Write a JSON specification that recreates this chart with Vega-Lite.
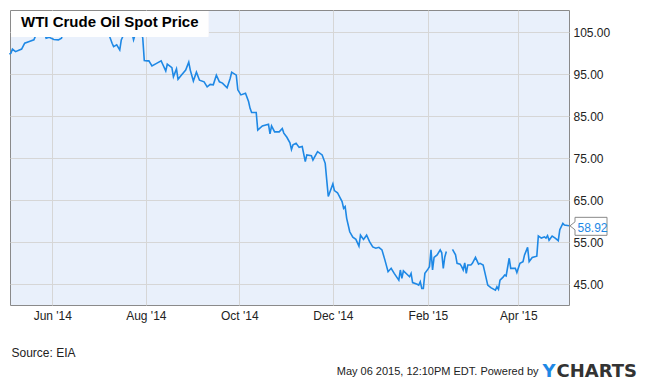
{
  "$schema": "https://vega.github.io/schema/vega-lite/v6.json",
  "width": 559,
  "height": 295,
  "autosize": {"type": "none"},
  "padding": {"left": 10, "top": 10, "right": 81, "bottom": 79},
  "background": "white",
  "config": {
    "view": {"fill": "#e9f0fb", "stroke": "#8a8a8a", "strokeWidth": 1},
    "font": "Liberation Sans"
  },
  "title": {
    "text": "WTI Crude Oil Spot Price",
    "anchor": "start",
    "frame": "group",
    "offset": -32,
    "dx": 11,
    "baseline": "alphabetic",
    "font": "Liberation Sans",
    "fontSize": 15,
    "fontWeight": "bold",
    "color": "#000000"
  },
  "data": {
    "format": {"parse": {"date": "date"}},
    "values": [
      {"date": "2014-05-04", "price": 99.8},
      {"date": "2014-05-05", "price": 100.0},
      {"date": "2014-05-06", "price": 101.0},
      {"date": "2014-05-08", "price": 100.4},
      {"date": "2014-05-12", "price": 101.0},
      {"date": "2014-05-14", "price": 102.4},
      {"date": "2014-05-17", "price": 102.8},
      {"date": "2014-05-20", "price": 103.2},
      {"date": "2014-05-21", "price": 104.1},
      {"date": "2014-05-22", "price": 104.8},
      {"date": "2014-05-24", "price": 105.4},
      {"date": "2014-05-26", "price": 105.7},
      {"date": "2014-05-28", "price": 103.6},
      {"date": "2014-05-30", "price": 103.8},
      {"date": "2014-06-02", "price": 103.3},
      {"date": "2014-06-05", "price": 103.2},
      {"date": "2014-06-07", "price": 103.6},
      {"date": "2014-06-08", "price": 104.8},
      {"date": "2014-06-10", "price": 105.1},
      {"date": "2014-06-11", "price": 106.3},
      {"date": "2014-06-14", "price": 106.6},
      {"date": "2014-06-16", "price": 106.5},
      {"date": "2014-06-19", "price": 106.6},
      {"date": "2014-06-24", "price": 106.3},
      {"date": "2014-06-29", "price": 106.3},
      {"date": "2014-07-01", "price": 106.0},
      {"date": "2014-07-04", "price": 104.8},
      {"date": "2014-07-08", "price": 104.4},
      {"date": "2014-07-10", "price": 102.4},
      {"date": "2014-07-11", "price": 101.6},
      {"date": "2014-07-13", "price": 102.0},
      {"date": "2014-07-15", "price": 100.8},
      {"date": "2014-07-16", "price": 103.2},
      {"date": "2014-07-17", "price": 104.0},
      {"date": "2014-07-18", "price": 104.8},
      {"date": "2014-07-21", "price": 105.7},
      {"date": "2014-07-23", "price": 104.8},
      {"date": "2014-07-24", "price": 103.2},
      {"date": "2014-07-25", "price": 104.4},
      {"date": "2014-07-27", "price": 106.0},
      {"date": "2014-07-29", "price": 105.3},
      {"date": "2014-07-30", "price": 103.6},
      {"date": "2014-07-31", "price": 98.3},
      {"date": "2014-08-02", "price": 98.2},
      {"date": "2014-08-03", "price": 98.2},
      {"date": "2014-08-05", "price": 97.0},
      {"date": "2014-08-08", "price": 97.6},
      {"date": "2014-08-11", "price": 98.2},
      {"date": "2014-08-12", "price": 97.4},
      {"date": "2014-08-14", "price": 95.8},
      {"date": "2014-08-15", "price": 97.4},
      {"date": "2014-08-18", "price": 96.6},
      {"date": "2014-08-19", "price": 94.4},
      {"date": "2014-08-21", "price": 96.3},
      {"date": "2014-08-22", "price": 93.8},
      {"date": "2014-08-24", "price": 94.7},
      {"date": "2014-08-27", "price": 96.0},
      {"date": "2014-08-29", "price": 97.9},
      {"date": "2014-08-30", "price": 96.0},
      {"date": "2014-09-01", "price": 93.4},
      {"date": "2014-09-03", "price": 95.5},
      {"date": "2014-09-05", "price": 93.6},
      {"date": "2014-09-08", "price": 93.2},
      {"date": "2014-09-10", "price": 92.0},
      {"date": "2014-09-12", "price": 92.6},
      {"date": "2014-09-14", "price": 92.5},
      {"date": "2014-09-16", "price": 94.8},
      {"date": "2014-09-18", "price": 93.2},
      {"date": "2014-09-20", "price": 92.9},
      {"date": "2014-09-23", "price": 91.8},
      {"date": "2014-09-25", "price": 94.0},
      {"date": "2014-09-26", "price": 95.5},
      {"date": "2014-09-29", "price": 94.8},
      {"date": "2014-09-30", "price": 91.3},
      {"date": "2014-10-02", "price": 90.1},
      {"date": "2014-10-05", "price": 90.5},
      {"date": "2014-10-07", "price": 88.5},
      {"date": "2014-10-08", "price": 86.9},
      {"date": "2014-10-09", "price": 85.9},
      {"date": "2014-10-12", "price": 85.9},
      {"date": "2014-10-13", "price": 81.7},
      {"date": "2014-10-16", "price": 82.7},
      {"date": "2014-10-20", "price": 83.1},
      {"date": "2014-10-21", "price": 80.8},
      {"date": "2014-10-22", "price": 82.7},
      {"date": "2014-10-24", "price": 81.3},
      {"date": "2014-10-27", "price": 81.3},
      {"date": "2014-10-29", "price": 82.1},
      {"date": "2014-10-30", "price": 81.0},
      {"date": "2014-11-01", "price": 80.0},
      {"date": "2014-11-03", "price": 78.7},
      {"date": "2014-11-04", "price": 77.1},
      {"date": "2014-11-05", "price": 78.2},
      {"date": "2014-11-07", "price": 78.6},
      {"date": "2014-11-09", "price": 77.6},
      {"date": "2014-11-11", "price": 77.8},
      {"date": "2014-11-13", "price": 74.2},
      {"date": "2014-11-14", "price": 75.8},
      {"date": "2014-11-17", "price": 75.6},
      {"date": "2014-11-18", "price": 74.6},
      {"date": "2014-11-21", "price": 76.6},
      {"date": "2014-11-24", "price": 75.8},
      {"date": "2014-11-26", "price": 73.8},
      {"date": "2014-11-27", "price": 69.8},
      {"date": "2014-11-28", "price": 65.9},
      {"date": "2014-12-01", "price": 68.9},
      {"date": "2014-12-02", "price": 67.3},
      {"date": "2014-12-04", "price": 66.8},
      {"date": "2014-12-07", "price": 64.7},
      {"date": "2014-12-08", "price": 63.1},
      {"date": "2014-12-09", "price": 63.5},
      {"date": "2014-12-10", "price": 60.7},
      {"date": "2014-12-12", "price": 57.5},
      {"date": "2014-12-14", "price": 56.2},
      {"date": "2014-12-16", "price": 55.7},
      {"date": "2014-12-18", "price": 54.1},
      {"date": "2014-12-19", "price": 56.7},
      {"date": "2014-12-21", "price": 55.7},
      {"date": "2014-12-23", "price": 56.7},
      {"date": "2014-12-25", "price": 55.1},
      {"date": "2014-12-27", "price": 53.9},
      {"date": "2014-12-29", "price": 53.6},
      {"date": "2014-12-31", "price": 53.8},
      {"date": "2015-01-02", "price": 53.2},
      {"date": "2015-01-04", "price": 50.7},
      {"date": "2015-01-06", "price": 48.0},
      {"date": "2015-01-08", "price": 48.8},
      {"date": "2015-01-10", "price": 47.6},
      {"date": "2015-01-13", "price": 46.0},
      {"date": "2015-01-14", "price": 48.4},
      {"date": "2015-01-15", "price": 46.4},
      {"date": "2015-01-16", "price": 48.2},
      {"date": "2015-01-18", "price": 47.5},
      {"date": "2015-01-20", "price": 46.8},
      {"date": "2015-01-21", "price": 47.6},
      {"date": "2015-01-22", "price": 45.4},
      {"date": "2015-01-25", "price": 45.0},
      {"date": "2015-01-26", "price": 44.8},
      {"date": "2015-01-27", "price": 45.6},
      {"date": "2015-01-28", "price": 44.0},
      {"date": "2015-01-29", "price": 44.0},
      {"date": "2015-01-30", "price": 47.6},
      {"date": "2015-02-01", "price": 48.6},
      {"date": "2015-02-02", "price": 49.2},
      {"date": "2015-02-03", "price": 53.2},
      {"date": "2015-02-04", "price": 48.4},
      {"date": "2015-02-05", "price": 51.4},
      {"date": "2015-02-07", "price": 52.0},
      {"date": "2015-02-09", "price": 53.2},
      {"date": "2015-02-10", "price": 52.5},
      {"date": "2015-02-11", "price": 48.8},
      {"date": "2015-02-12", "price": 51.5},
      {"date": "2015-02-13", "price": 52.8},
      {"date": "2015-02-15", "price": null},
      {"date": "2015-02-17", "price": 53.3},
      {"date": "2015-02-19", "price": 52.0},
      {"date": "2015-02-20", "price": 50.0},
      {"date": "2015-02-22", "price": 49.8},
      {"date": "2015-02-23", "price": 49.2},
      {"date": "2015-02-24", "price": 48.4},
      {"date": "2015-02-25", "price": 50.1},
      {"date": "2015-02-26", "price": 47.6},
      {"date": "2015-02-27", "price": 49.6},
      {"date": "2015-03-01", "price": 49.6},
      {"date": "2015-03-02", "price": 50.0},
      {"date": "2015-03-04", "price": 51.4},
      {"date": "2015-03-06", "price": 49.8},
      {"date": "2015-03-07", "price": 50.0},
      {"date": "2015-03-09", "price": 49.6},
      {"date": "2015-03-10", "price": 48.0},
      {"date": "2015-03-12", "price": 44.8},
      {"date": "2015-03-14", "price": 44.2},
      {"date": "2015-03-17", "price": 43.6},
      {"date": "2015-03-18", "price": 44.4},
      {"date": "2015-03-19", "price": 43.8},
      {"date": "2015-03-20", "price": 46.0},
      {"date": "2015-03-22", "price": 46.7},
      {"date": "2015-03-23", "price": 47.2},
      {"date": "2015-03-24", "price": 47.0},
      {"date": "2015-03-26", "price": 51.2},
      {"date": "2015-03-27", "price": 48.8},
      {"date": "2015-03-30", "price": 48.8},
      {"date": "2015-03-31", "price": 47.8},
      {"date": "2015-04-02", "price": 50.0},
      {"date": "2015-04-04", "price": 50.4},
      {"date": "2015-04-05", "price": 52.0},
      {"date": "2015-04-07", "price": 53.8},
      {"date": "2015-04-08", "price": 50.4},
      {"date": "2015-04-10", "price": 51.4},
      {"date": "2015-04-13", "price": 51.7},
      {"date": "2015-04-14", "price": 56.5},
      {"date": "2015-04-16", "price": 56.0},
      {"date": "2015-04-18", "price": 56.3},
      {"date": "2015-04-19", "price": 56.0},
      {"date": "2015-04-20", "price": 56.6},
      {"date": "2015-04-21", "price": 55.5},
      {"date": "2015-04-23", "price": 56.5},
      {"date": "2015-04-25", "price": 56.0},
      {"date": "2015-04-27", "price": 55.4},
      {"date": "2015-04-28", "price": 58.0},
      {"date": "2015-04-30", "price": 59.5},
      {"date": "2015-05-01", "price": 59.1},
      {"date": "2015-05-04", "price": 58.92}
    ]
  },
  "resolve": {"axis": {"x": "independent", "y": "independent"}},
  "layer": [
    {
      "mark": {"type": "line", "color": "#1e88e5", "strokeWidth": 1.6, "invalid": "break-paths-show-domains"},
      "encoding": {
        "x": {
          "field": "date",
          "type": "temporal",
          "scale": {
            "type": "utc",
            "domain": [
              {"year": 2014, "month": 5, "date": 4, "hours": 10, "utc": true},
              {"year": 2015, "month": 5, "date": 4, "utc": true}
            ]
          },
          "axis": {
            "orient": "bottom",
            "values": [
              {"year": 2014, "month": 6, "date": 1, "utc": true},
              {"year": 2014, "month": 8, "date": 1, "utc": true},
              {"year": 2014, "month": 10, "date": 1, "utc": true},
              {"year": 2014, "month": 12, "date": 1, "utc": true},
              {"year": 2015, "month": 2, "date": 1, "utc": true},
              {"year": 2015, "month": 4, "date": 1, "utc": true}
            ],
            "format": "%b '%y",
            "labelFont": "Liberation Sans",
            "labelFontSize": 12,
            "labelColor": "#222222",
            "labelPadding": 5,
            "ticks": false,
            "tickSize": 0,
            "domain": false,
            "grid": true,
            "gridColor": "#d6d6d6",
            "gridWidth": 1,
            "title": "Source: EIA",
            "titleX": 1,
            "titleY": 51,
            "titleAlign": "left",
            "titleBaseline": "alphabetic",
            "titleFont": "Liberation Sans",
            "titleFontSize": 12,
            "titleFontWeight": "normal",
            "titleColor": "#222222"
          }
        },
        "y": {
          "field": "price",
          "type": "quantitative",
          "scale": {"domain": [40.07, 110.31], "nice": false, "zero": false},
          "axis": {
            "orient": "right",
            "values": [45, 55, 65, 75, 85, 95, 105],
            "format": ".2f",
            "labelFont": "Liberation Sans",
            "labelFontSize": 12,
            "labelColor": "#222222",
            "labelPadding": 4,
            "ticks": false,
            "tickSize": 0,
            "domain": false,
            "grid": true,
            "gridColor": "#d6d6d6",
            "gridWidth": 1,
            "title": "May 06 2015, 12:10PM EDT. Powered by",
            "titleAngle": 0,
            "titleX": -31,
            "titleY": 364,
            "titleAlign": "right",
            "titleBaseline": "alphabetic",
            "titleFont": "Liberation Sans",
            "titleFontSize": 11,
            "titleFontWeight": "normal",
            "titleColor": "#222222"
          }
        }
      }
    },
    {
      "mark": {"type": "rect", "fill": "#ffffff", "opacity": 0.45},
      "encoding": {
        "x": {"datum": {"year": 2014, "month": 5, "date": 5, "hours": 2, "utc": true}, "type": "temporal", "axis": null},
        "x2": {"datum": {"year": 2014, "month": 9, "date": 10, "hours": 17, "utc": true}},
        "y": {"datum": 110.05, "type": "quantitative", "axis": null},
        "y2": {"datum": 103.95}
      }
    },
    {
      "transform": [{"filter": {"field": "date", "gte": {"year": 2015, "month": 5, "date": 4, "utc": true}}}],
      "mark": {"type": "point", "shape": "M1,0L6,-4L6,-8.5L38,-8.5L38,9.5L6,9.5L6,4Z", "size": 4, "filled": true, "fill": "#ffffff", "stroke": "#8a8a8a", "strokeWidth": 1, "opacity": 1},
      "encoding": {
        "x": {
          "field": "date",
          "type": "temporal",
          "axis": {
            "orient": "top",
            "labels": false,
            "ticks": false,
            "domain": false,
            "grid": false,
            "title": "Y",
            "titleX": 532,
            "titleY": 366,
            "titleAlign": "left",
            "titleBaseline": "alphabetic",
            "titleFont": "DejaVu Sans",
            "titleFontSize": 18,
            "titleFontWeight": "bold",
            "titleColor": "#1e88e5"
          }
        },
        "y": {
          "field": "price",
          "type": "quantitative",
          "axis": {
            "orient": "left",
            "labels": false,
            "ticks": false,
            "domain": false,
            "grid": false,
            "title": "CHARTS",
            "titleAngle": 0,
            "titleX": 546,
            "titleY": 366,
            "titleAlign": "left",
            "titleBaseline": "alphabetic",
            "titleFont": "DejaVu Sans",
            "titleFontSize": 18,
            "titleFontWeight": "bold",
            "titleColor": "#333333"
          }
        }
      }
    },
    {
      "transform": [{"filter": {"field": "date", "gte": {"year": 2015, "month": 5, "date": 4, "utc": true}}}],
      "mark": {"type": "text", "align": "left", "baseline": "alphabetic", "dx": 8.5, "dy": 6, "font": "Liberation Sans", "fontSize": 12, "color": "#1e88e5"},
      "encoding": {
        "x": {"field": "date", "type": "temporal", "axis": null},
        "y": {"field": "price", "type": "quantitative", "axis": null},
        "text": {"field": "price", "type": "quantitative", "format": ".2f"}
      }
    }
  ]
}
